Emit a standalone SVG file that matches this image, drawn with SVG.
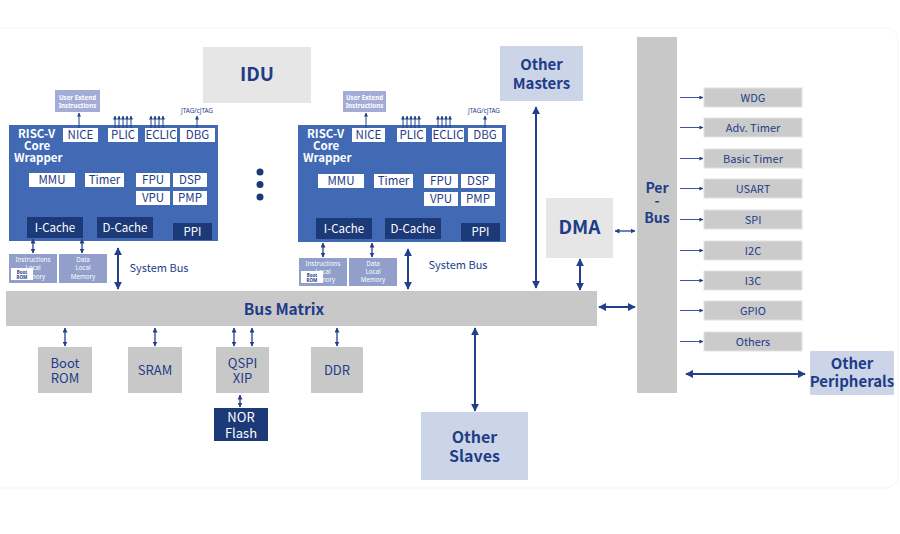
<svg xmlns="http://www.w3.org/2000/svg" width="900" height="534" viewBox="0 0 900 534">
<defs>
<style>
text{font-family:"Noto Sans CJK SC","Noto Sans","Liberation Sans",sans-serif;}
.wr{fill:#4169b4;}
.wb{fill:#ffffff;}
.wt{fill:#1f3c88;font-size:11.5px;text-anchor:middle;}
.dk{fill:#1c3a78;}
.dt{fill:#ffffff;font-size:11.5px;text-anchor:middle;}
.ti{fill:#ffffff;font-size:11.5px;font-weight:bold;}
.lm{fill:#919fca;}
.lt{fill:#ffffff;font-size:6.2px;text-anchor:middle;font-family:"Noto Sans","Liberation Sans",sans-serif;}
.ue{fill:#a3acd6;}
.ut{fill:#ffffff;font-size:6.2px;font-weight:bold;text-anchor:middle;font-family:"Noto Sans","Liberation Sans",sans-serif;}
.sm{fill:#1f3c88;font-size:6.3px;text-anchor:middle;font-family:"Noto Sans","Liberation Sans",sans-serif;}
.br{fill:#1f3c88;font-size:4.5px;font-weight:bold;text-anchor:middle;font-family:"Noto Sans","Liberation Sans",sans-serif;}
.gr{fill:#c8c8c8;}
.lg{fill:#e6e6e6;}
.lb{fill:#ccd5e8;}
.bt{fill:#1f3c88;font-weight:bold;text-anchor:middle;}
.nt{fill:#1f3c88;text-anchor:middle;}
.pb{fill:#cbcbcb;stroke:#e2e2e2;stroke-width:1;}
.pt{fill:#1f3c88;font-size:11px;text-anchor:middle;}
.a2{stroke:#22408a;stroke-width:2;fill:none;marker-start:url(#hb);marker-end:url(#hb);}
.a1{stroke:#22408a;stroke-width:1.3;fill:none;marker-start:url(#hs);marker-end:url(#hs);}
.u1{stroke:#22408a;stroke-width:1;fill:none;marker-end:url(#ht);}
.p1{stroke:#3b5596;stroke-width:1;fill:none;marker-end:url(#ht);}
</style>
<marker id="hb" viewBox="0 0 10 10" refX="9" refY="5" markerWidth="8" markerHeight="8" markerUnits="userSpaceOnUse" orient="auto-start-reverse"><path d="M0,0 L10,5 L0,10 z" fill="#22408a"/></marker>
<marker id="hs" viewBox="0 0 10 10" refX="9" refY="5" markerWidth="5" markerHeight="5" markerUnits="userSpaceOnUse" orient="auto-start-reverse"><path d="M0,0 L10,5 L0,10 z" fill="#22408a"/></marker>
<marker id="ht" viewBox="0 0 10 10" refX="9" refY="5" markerWidth="4" markerHeight="4" markerUnits="userSpaceOnUse" orient="auto"><path d="M0,0 L10,5 L0,10 z" fill="#22408a"/></marker>
</defs>
<rect x="0" y="0" width="900" height="534" fill="#ffffff"/>
<rect x="-12" y="28" width="910" height="460" rx="12" fill="#ffffff" stroke="#f4f4f4" stroke-width="1"/>

<g id="core1">
<rect class="ue" x="55" y="90" width="45" height="22"/>
<text class="ut" x="77.5" y="99.5">User Extend<tspan x="77.5" dy="8">Instructions</tspan></text>
<text class="sm" x="197" y="113">JTAG/cJTAG</text>
<rect class="wr" x="9" y="125" width="209" height="116"/>
<text class="ti" x="18" y="138">RISC-V<tspan x="24" dy="12">Core</tspan><tspan x="14" dy="12">Wrapper</tspan></text>
<rect class="wb" x="63" y="128" width="35" height="14"/><text class="wt" x="80.5" y="139">NICE</text>
<rect class="wb" x="108" y="128" width="30" height="14"/><text class="wt" x="123" y="139">PLIC</text>
<rect class="wb" x="145" y="128" width="32" height="14"/><text class="wt" x="161" y="139">ECLIC</text>
<rect class="wb" x="180" y="128" width="35" height="14"/><text class="wt" x="197.5" y="139">DBG</text>
<rect class="wb" x="29" y="173" width="46" height="14"/><text class="wt" x="52" y="184">MMU</text>
<rect class="wb" x="85" y="173" width="39" height="14"/><text class="wt" x="104.5" y="184">Timer</text>
<rect class="wb" x="136" y="173" width="34" height="14"/><text class="wt" x="153" y="184">FPU</text>
<rect class="wb" x="173" y="173" width="34" height="14"/><text class="wt" x="190" y="184">DSP</text>
<rect class="wb" x="136" y="191" width="34" height="14"/><text class="wt" x="153" y="202">VPU</text>
<rect class="wb" x="173" y="191" width="34" height="14"/><text class="wt" x="190" y="202">PMP</text>
<rect class="dk" x="27" y="217" width="56" height="21"/><text class="dt" x="55" y="231.5">I-Cache</text>
<rect class="dk" x="97" y="217" width="56" height="21"/><text class="dt" x="125" y="231.5">D-Cache</text>
<rect class="dk" x="173" y="223" width="39" height="17"/><text class="dt" x="192.5" y="235.5">PPI</text>
<rect class="lm" x="9" y="254" width="48" height="29"/>
<text class="lt" x="33" y="262">Instructions<tspan x="33" dy="8">Local</tspan><tspan x="33" dy="8.5">Memory</tspan></text>
<rect fill="#ffffff" x="11" y="268" width="22" height="12"/>
<text class="br" x="22" y="273.5">Boot<tspan x="22" dy="5">ROM</tspan></text>
<rect class="lm" x="59" y="254" width="48" height="29"/>
<text class="lt" x="83" y="262">Data<tspan x="83" dy="8">Local</tspan><tspan x="83" dy="8.5">Memory</tspan></text>
<text class="nt" x="159" y="272" style="font-size:11px">System Bus</text>
</g>

<g id="core2">
<rect class="ue" x="343" y="91" width="43" height="21"/>
<text class="ut" x="364.5" y="100">User Extend<tspan x="364.5" dy="8">Instructions</tspan></text>
<text class="sm" x="484" y="113">JTAG/cJTAG</text>
<rect class="wr" x="298" y="125" width="208" height="117"/>
<text class="ti" x="307" y="138">RISC-V<tspan x="313" dy="12">Core</tspan><tspan x="303" dy="12">Wrapper</tspan></text>
<rect class="wb" x="352" y="128" width="33" height="14"/><text class="wt" x="368.5" y="139">NICE</text>
<rect class="wb" x="397" y="128" width="29" height="14"/><text class="wt" x="411.5" y="139">PLIC</text>
<rect class="wb" x="432" y="128" width="32" height="14"/><text class="wt" x="448" y="139">ECLIC</text>
<rect class="wb" x="468" y="128" width="34" height="14"/><text class="wt" x="485" y="139">DBG</text>
<rect class="wb" x="318" y="174" width="46" height="14"/><text class="wt" x="341" y="185">MMU</text>
<rect class="wb" x="374" y="174" width="39" height="14"/><text class="wt" x="393.5" y="185">Timer</text>
<rect class="wb" x="424" y="174" width="34" height="14"/><text class="wt" x="441" y="185">FPU</text>
<rect class="wb" x="461" y="174" width="34" height="14"/><text class="wt" x="478" y="185">DSP</text>
<rect class="wb" x="424" y="192" width="34" height="14"/><text class="wt" x="441" y="203">VPU</text>
<rect class="wb" x="461" y="192" width="34" height="14"/><text class="wt" x="478" y="203">PMP</text>
<rect class="dk" x="316" y="218" width="56" height="21"/><text class="dt" x="344" y="232.5">I-Cache</text>
<rect class="dk" x="385" y="218" width="56" height="21"/><text class="dt" x="413" y="232.5">D-Cache</text>
<rect class="dk" x="461" y="223" width="39" height="18"/><text class="dt" x="480.5" y="236">PPI</text>
<rect class="lm" x="299" y="258" width="48" height="28"/>
<text class="lt" x="323" y="266">Instructions<tspan x="323" dy="8">Local</tspan><tspan x="323" dy="8">Memory</tspan></text>
<rect fill="#ffffff" x="301" y="271" width="22" height="12"/>
<text class="br" x="312" y="276.5">Boot<tspan x="312" dy="5">ROM</tspan></text>
<rect class="lm" x="349" y="258" width="48" height="28"/>
<text class="lt" x="373" y="266">Data<tspan x="373" dy="8">Local</tspan><tspan x="373" dy="8">Memory</tspan></text>
<text class="nt" x="458" y="269" style="font-size:11px">System Bus</text>
</g>

<g id="dots" fill="#1c3a78">
<circle cx="260" cy="172" r="3.5"/>
<circle cx="260" cy="184.5" r="3.5"/>
<circle cx="260" cy="197" r="3.5"/>
</g>

<g id="idu"><rect class="lg" x="203" y="47" width="108" height="56"/><text class="bt" x="257" y="81" style="font-size:19px">IDU</text></g>
<g id="other-masters"><rect class="lb" x="500" y="46" width="83" height="55"/><text class="bt" x="541.5" y="70" style="font-size:15px">Other<tspan x="541.5" dy="19">Masters</tspan></text></g>
<g id="dma"><rect class="lg" x="546" y="198" width="67" height="60"/><text class="bt" x="579.5" y="234" style="font-size:19px">DMA</text></g>
<g id="bus-matrix"><rect class="gr" x="6" y="291" width="591" height="35"/><text class="bt" x="284" y="315" style="font-size:15.5px">Bus Matrix</text></g>
<g id="other-slaves"><rect class="lb" x="421" y="412" width="107" height="68"/><text class="bt" x="474.5" y="443" style="font-size:16px">Other<tspan x="474.5" dy="19">Slaves</tspan></text></g>
<g id="per-bus"><rect class="gr" x="637" y="37" width="40" height="356"/><text class="bt" x="657" y="193" style="font-size:14px">Per<tspan x="657" dy="13">-</tspan><tspan x="657" dy="17">Bus</tspan></text></g>
<g id="boot-rom"><rect class="gr" x="38" y="347" width="54" height="46"/><text class="nt" x="65" y="368" style="font-size:13px">Boot<tspan x="65" dy="15">ROM</tspan></text></g>
<g id="sram"><rect class="gr" x="128" y="347" width="54" height="46"/><text class="nt" x="155" y="375" style="font-size:13px">SRAM</text></g>
<g id="qspi"><rect class="gr" x="216" y="347" width="53" height="46"/><text class="nt" x="242.5" y="368" style="font-size:13px">QSPI<tspan x="242.5" dy="15">XIP</tspan></text></g>
<g id="ddr"><rect class="gr" x="311" y="347" width="52" height="46"/><text class="nt" x="337" y="375" style="font-size:13px">DDR</text></g>
<g id="nor-flash"><rect class="dk" x="214" y="408" width="54" height="33"/><text class="dt" x="241" y="422" style="font-size:13px">NOR<tspan x="241" dy="16">Flash</tspan></text></g>
<g id="other-peripherals"><rect class="lb" x="810" y="351" width="84" height="44"/><text class="bt" x="852" y="369" style="font-size:15px">Other<tspan x="852" dy="18">Peripherals</tspan></text></g>

<g id="wdg"><rect class="pb" x="704" y="88" width="98" height="19"/><text class="pt" x="753" y="101.5">WDG</text></g>
<g id="adv-timer"><rect class="pb" x="704" y="118" width="98" height="19"/><text class="pt" x="753" y="131.5">Adv. Timer</text></g>
<g id="basic-timer"><rect class="pb" x="704" y="149" width="98" height="19"/><text class="pt" x="753" y="162.5">Basic Timer</text></g>
<g id="usart"><rect class="pb" x="704" y="179" width="98" height="19"/><text class="pt" x="753" y="192.5">USART</text></g>
<g id="spi"><rect class="pb" x="704" y="210" width="98" height="19"/><text class="pt" x="753" y="223.5">SPI</text></g>
<g id="i2c"><rect class="pb" x="704" y="241" width="98" height="19"/><text class="pt" x="753" y="254.5">I2C</text></g>
<g id="i3c"><rect class="pb" x="704" y="271" width="98" height="19"/><text class="pt" x="753" y="284.5">I3C</text></g>
<g id="gpio"><rect class="pb" x="704" y="301" width="98" height="19"/><text class="pt" x="753" y="314.5">GPIO</text></g>
<g id="others"><rect class="pb" x="704" y="332" width="98" height="19"/><text class="pt" x="753" y="345.5">Others</text></g>

<g id="connectors">
<line class="u1" x1="79" y1="128" x2="79" y2="113"/>
<line class="u1" x1="115" y1="128" x2="115" y2="116"/>
<line class="u1" x1="119" y1="128" x2="119" y2="116"/>
<line class="u1" x1="123" y1="128" x2="123" y2="116"/>
<line class="u1" x1="127" y1="128" x2="127" y2="116"/>
<line class="u1" x1="131" y1="128" x2="131" y2="116"/>
<line class="u1" x1="151" y1="128" x2="151" y2="116"/>
<line class="u1" x1="155" y1="128" x2="155" y2="116"/>
<line class="u1" x1="159" y1="128" x2="159" y2="116"/>
<line class="u1" x1="163" y1="128" x2="163" y2="116"/>
<line class="u1" x1="197" y1="128" x2="197" y2="116"/>
<line class="a1" x1="33" y1="239" x2="33" y2="253"/>
<line class="a1" x1="82" y1="239" x2="82" y2="253"/>
<line class="a2" x1="118" y1="248" x2="118" y2="289"/>
<line class="u1" x1="366" y1="128" x2="366" y2="113"/>
<line class="u1" x1="403" y1="128" x2="403" y2="116"/>
<line class="u1" x1="407" y1="128" x2="407" y2="116"/>
<line class="u1" x1="411" y1="128" x2="411" y2="116"/>
<line class="u1" x1="415" y1="128" x2="415" y2="116"/>
<line class="u1" x1="419" y1="128" x2="419" y2="116"/>
<line class="u1" x1="438" y1="128" x2="438" y2="116"/>
<line class="u1" x1="442" y1="128" x2="442" y2="116"/>
<line class="u1" x1="446" y1="128" x2="446" y2="116"/>
<line class="u1" x1="450" y1="128" x2="450" y2="116"/>
<line class="u1" x1="485" y1="128" x2="485" y2="116"/>
<line class="a1" x1="323" y1="243" x2="323" y2="257"/>
<line class="a1" x1="372" y1="243" x2="372" y2="257"/>
<line class="a2" x1="408" y1="249" x2="408" y2="289"/>
<line class="a2" x1="536" y1="107" x2="536" y2="288"/>
<line class="a2" x1="580" y1="259" x2="580" y2="290"/>
<line class="a1" x1="615" y1="231" x2="635" y2="231"/>
<line class="a2" x1="599" y1="307" x2="635" y2="307"/>
<line class="a2" x1="475" y1="328" x2="475" y2="411"/>
<line class="a2" x1="686" y1="374" x2="805" y2="374"/>
<line class="a1" x1="65" y1="328" x2="65" y2="346"/>
<line class="a1" x1="155" y1="328" x2="155" y2="346"/>
<line class="a1" x1="234" y1="328" x2="234" y2="346"/>
<line class="a1" x1="252" y1="328" x2="252" y2="346"/>
<line class="a1" x1="337" y1="328" x2="337" y2="346"/>
<line class="a1" x1="240" y1="395" x2="240" y2="407"/>
<line class="p1" x1="680" y1="97.5" x2="703" y2="97.5"/>
<line class="p1" x1="680" y1="127.5" x2="703" y2="127.5"/>
<line class="p1" x1="680" y1="158.5" x2="703" y2="158.5"/>
<line class="p1" x1="680" y1="188.5" x2="703" y2="188.5"/>
<line class="p1" x1="680" y1="219.5" x2="703" y2="219.5"/>
<line class="p1" x1="680" y1="250.5" x2="703" y2="250.5"/>
<line class="p1" x1="680" y1="280.5" x2="703" y2="280.5"/>
<line class="p1" x1="680" y1="310.5" x2="703" y2="310.5"/>
<line class="p1" x1="680" y1="341.5" x2="703" y2="341.5"/>
</g>
</svg>
